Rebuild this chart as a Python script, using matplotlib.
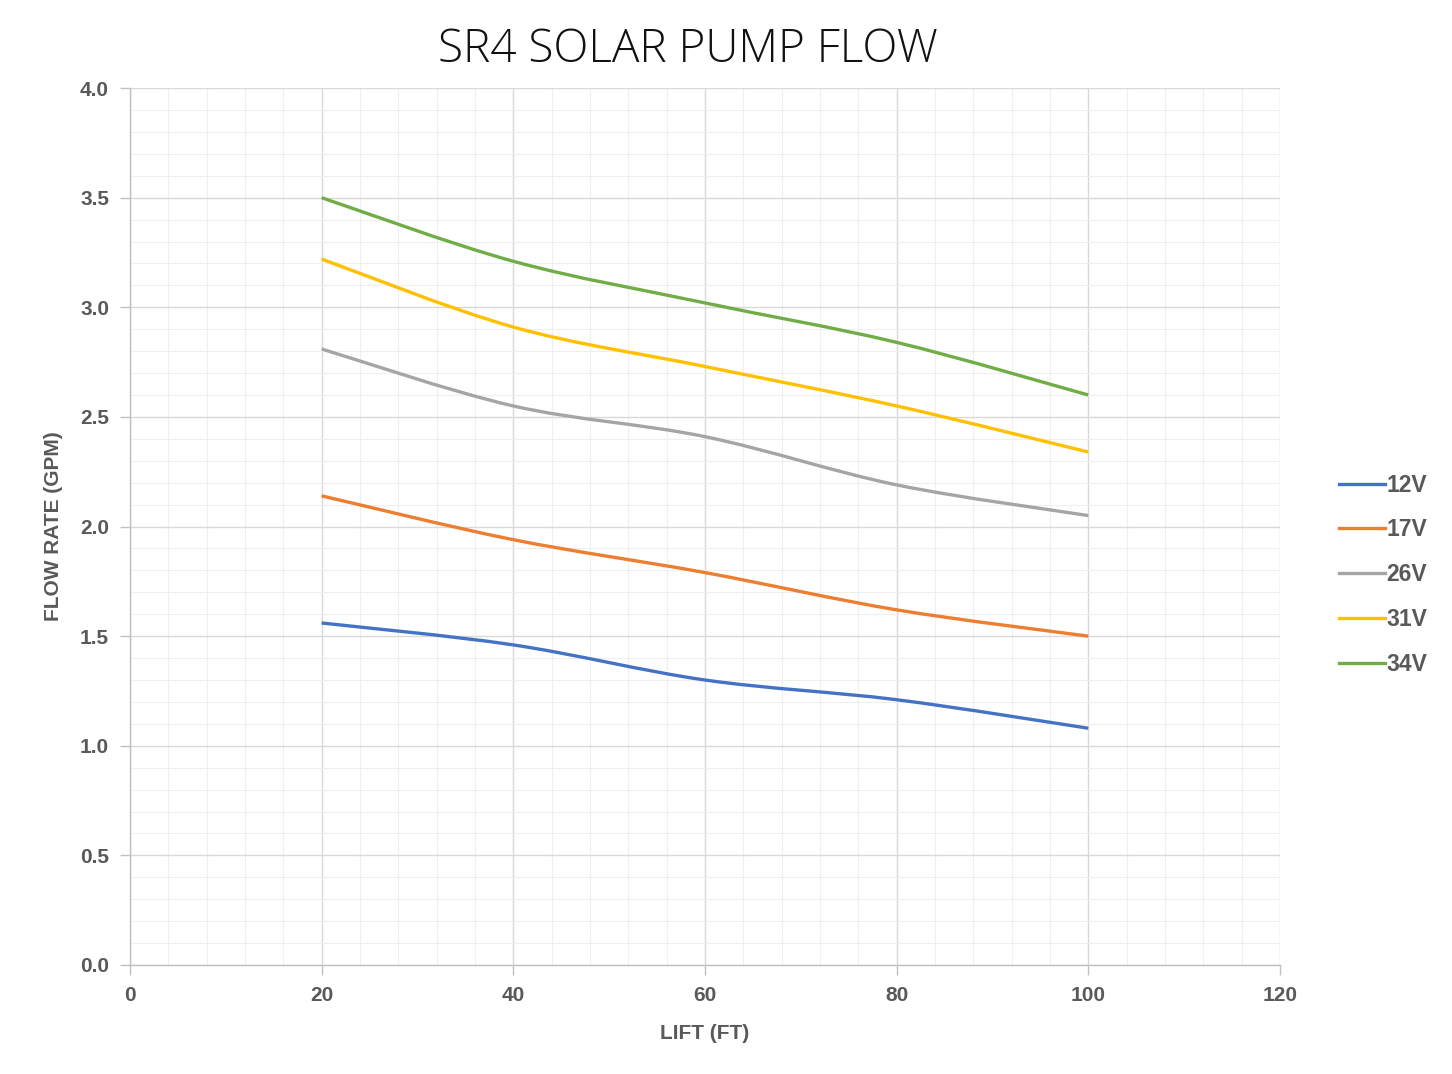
import numpy as np
import matplotlib.pyplot as plt
from matplotlib.path import Path
from matplotlib.patches import PathPatch
from matplotlib.lines import Line2D

# data
lift = [20, 40, 60, 80, 100]
series = {
    "12V": [1.56, 1.46, 1.30, 1.21, 1.08],
    "17V": [2.14, 1.94, 1.79, 1.62, 1.50],
    "26V": [2.81, 2.55, 2.41, 2.19, 2.05],
    "31V": [3.22, 2.91, 2.73, 2.55, 2.34],
    "34V": [3.50, 3.21, 3.02, 2.84, 2.60],
}
colors = ["#4472C4", "#ED7D31", "#A5A5A5", "#FFC000", "#70AD47"]

text_col = "#595959"
grid_major = "#d9d9d9"
grid_minor = "#efefef"
plt.rcParams["font.family"] = ["Liberation Sans", "DejaVu Sans"]


def smooth_path(x, y, t=1 / 6):
    # Catmull-Rom style bezier through the points (spreadsheet "smoothed line")
    x = np.asarray(x, float)
    y = np.asarray(y, float)
    verts = [(x[0], y[0])]
    codes = [Path.MOVETO]
    n = len(x)
    for i in range(n - 1):
        p0 = (x[max(i - 1, 0)], y[max(i - 1, 0)])
        p1 = (x[i], y[i])
        p2 = (x[i + 1], y[i + 1])
        p3 = (x[min(i + 2, n - 1)], y[min(i + 2, n - 1)])
        c1 = (p1[0] + (p2[0] - p0[0]) * t, p1[1] + (p2[1] - p0[1]) * t)
        c2 = (p2[0] - (p3[0] - p1[0]) * t, p2[1] - (p3[1] - p1[1]) * t)
        verts += [c1, c2, p2]
        codes += [Path.CURVE4] * 3
    return Path(verts, codes)


fig = plt.figure(figsize=(14.52, 10.74), dpi=100)
ax = fig.add_axes([0.0895, 0.1015, 0.792, 0.8165])

for (name, vals), c in zip(series.items(), colors):
    patch = PathPatch(smooth_path(lift, vals), facecolor="none", edgecolor=c,
                      lw=2.4, capstyle="butt", zorder=3)
    ax.add_patch(patch)

ax.set_xlim(0, 120)
ax.set_ylim(0, 4.0)
ax.set_xticks(np.arange(0, 121, 20))
ax.set_yticks(np.arange(0, 4.01, 0.5))
ax.set_xticks(np.arange(0, 121, 4), minor=True)
ax.set_yticks(np.arange(0, 4.01, 0.1), minor=True)
ax.set_yticklabels([f"{v:.1f}" for v in np.arange(0, 4.01, 0.5)])

ax.grid(which="major", color=grid_major, lw=1.0, zorder=0)
ax.grid(which="minor", color=grid_minor, lw=0.8, zorder=0)
ax.set_axisbelow(True)

for s in ["top", "right"]:
    ax.spines[s].set_visible(False)
for s in ["left", "bottom"]:
    ax.spines[s].set_color("#bfbfbf")
    ax.spines[s].set_linewidth(1.0)

ax.tick_params(which="major", length=7, width=1.0, color="#bfbfbf",
               labelsize=15, labelcolor=text_col, pad=8)
ax.tick_params(which="minor", length=0)
for lbl in ax.get_xticklabels() + ax.get_yticklabels():
    lbl.set_fontweight("bold")

ax.set_xlabel("LIFT (FT)", fontsize=15, fontweight="bold", color=text_col, labelpad=14)
ax.set_ylabel("FLOW RATE (GPM)", fontsize=15, fontweight="bold", color=text_col, labelpad=12)

fig.suptitle("SR4 SOLAR PUMP FLOW", x=0.474, y=0.975, fontsize=33,
             family="Open Sans", fontweight="light", color="#111111")

handles = [Line2D([], [], color=c, lw=2.4) for c in colors]
leg = fig.legend(handles, list(series.keys()), loc="center left",
                 bbox_to_anchor=(0.908, 0.465), frameon=False,
                 handlelength=2.0, handletextpad=0.05, labelspacing=0.95,
                 prop={"family": "Liberation Sans", "size": 16.5, "weight": "bold"})
for t in leg.get_texts():
    t.set_color(text_col)

fig.savefig("out.png", dpi=100)
